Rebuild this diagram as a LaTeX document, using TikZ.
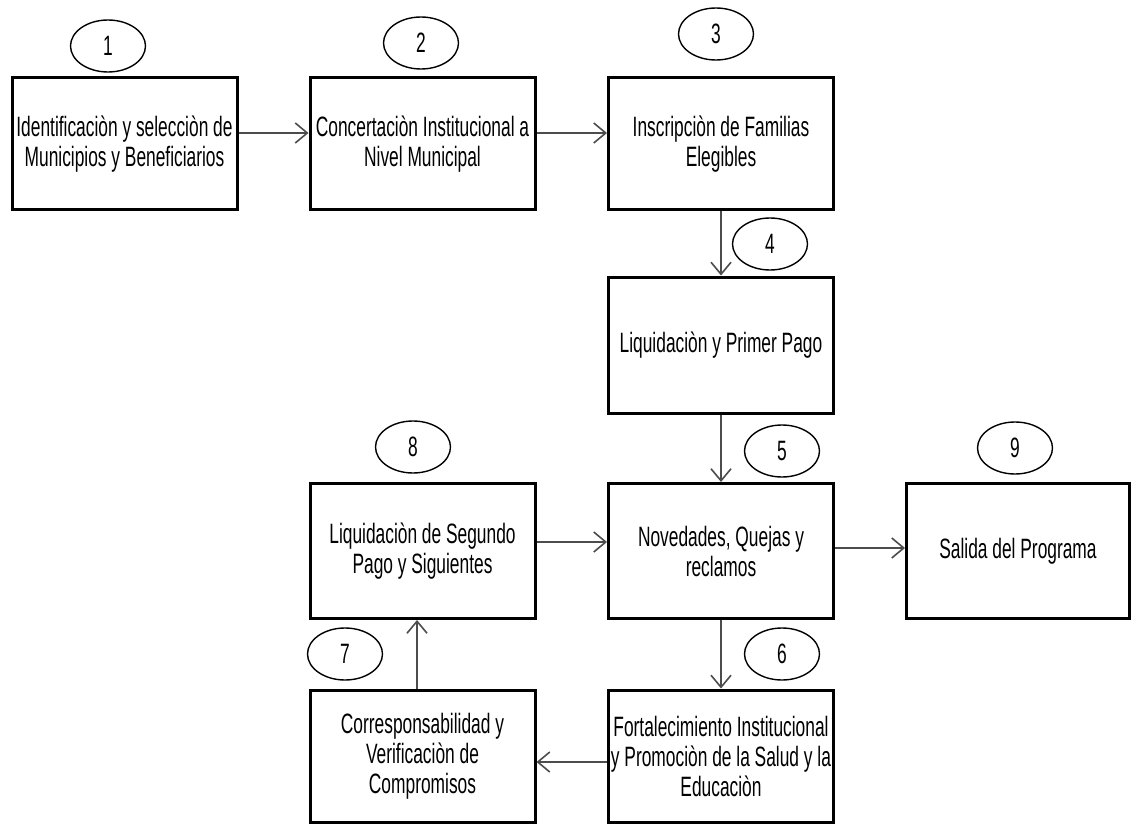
\documentclass[tikz,border=0pt]{standalone}
\usepackage{fontspec}
\newfontfamily\narrowfont{Liberation Sans}[FakeStretch=0.62]
\usetikzlibrary{arrows.meta,shapes.geometric}

\tikzset{
  etapa/.style={draw, line width=1.5pt, minimum width=112.5pt, minimum height=66pt,
    align=center, inner sep=1pt, font=\narrowfont\fontsize{14}{15}\selectfont},
  numero/.style={draw, ellipse, line width=0.7pt, minimum width=37.5pt, minimum height=26pt,
    inner sep=0pt, font=\narrowfont\fontsize{14}{15}\selectfont},
  flecha/.style={line width=0.8pt, black!70, -{Straight Barb[length=6pt,width=10pt,line width=0.8pt]}}
}

\begin{document}
\begin{tikzpicture}[x=0.5pt,y=-0.5pt]
\useasboundingbox (0,0) rectangle (1131,824);
% etapas
\node[etapa] (b1) at (124.5,144) {Identificaciòn y selecciòn de\\Municipios y Beneficiarios};
\node[etapa] (b2) at (422.5,144) {Concertaciòn Institucional a\\Nivel Municipal};
\node[etapa] (b3) at (721,144) {Inscripciòn de Familias\\Elegibles};
\node[etapa, minimum height=68pt] (b4) at (721,345) {Liquidaciòn y Primer Pago};
\node[etapa, minimum height=67.5pt] (b5) at (721,551) {Novedades, Quejas y\\reclamos};
\node[etapa, minimum height=67.5pt] (b8) at (422.5,551) {Liquidaciòn de Segundo\\Pago y Siguientes};
\node[etapa, minimum height=67.5pt, minimum width=111.5pt] (b9) at (1018,551) {Salida del Programa};
\node[etapa] (b6) at (721,756) {Fortalecimiento Institucional\\y Promociòn de la Salud y la\\Educaciòn};
\node[etapa] (b7) at (422.5,756) {Corresponsabilidad y\\Verificaciòn de\\Compromisos};
% numeros
\node[numero] (e1) at (108,46) {1};
\node[numero] (e2) at (421,43) {2};
\node[numero] (e3) at (716,34) {3};
\node[numero] (e4) at (770,244) {4};
\node[numero] (e5) at (782,451) {5};
\node[numero] (e6) at (782,654) {6};
\node[numero] (e7) at (345,654) {7};
\node[numero] (e8) at (413,447) {8};
\node[numero] (e9) at (1015,448) {9};
% flechas
\draw[flecha] ([yshift=5.5pt]b1.east) -- ([yshift=5.5pt]b2.west);
\draw[flecha] ([yshift=5.5pt]b2.east) -- ([yshift=5.5pt]b3.west);
\draw[flecha] (b3.south) -- (b4.north);
\draw[flecha] (b4.south) -- (b5.north);
\draw[flecha] ([yshift=4.5pt]b8.east) -- ([yshift=4.5pt]b5.west);
\draw[flecha] ([yshift=1.5pt]b5.east) -- ([yshift=1.5pt]b9.west);
\draw[flecha] (b5.south) -- (b6.north);
\draw[flecha] ([yshift=-3pt]b6.west) -- ([yshift=-3pt]b7.east);
\draw[flecha] ([xshift=-2.75pt]b7.north) -- ([xshift=-2.75pt]b8.south);
\end{tikzpicture}
\end{document}
